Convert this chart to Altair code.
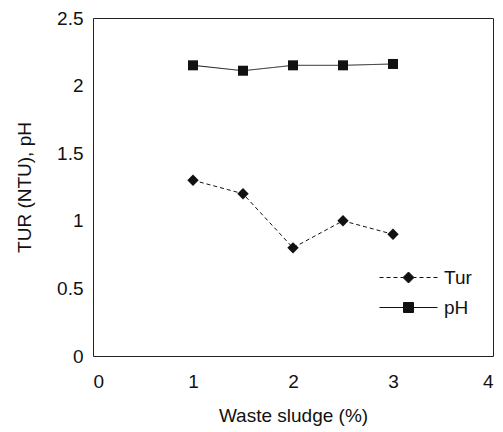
import altair as alt
import pandas as pd

sludge = [1, 1.5, 2, 2.5, 3]
tur = [1.3, 1.2, 0.8, 1.0, 0.9]
ph = [2.15, 2.11, 2.15, 2.15, 2.16]
series_names = ["Tur", "pH"]

rows = []
for xv, t in zip(sludge, tur):
    rows.append({"x": xv, "v": t, "series": "Tur"})
for xv, p in zip(sludge, ph):
    rows.append({"x": xv, "v": p, "series": "pH"})
df = pd.DataFrame(rows)

FONT = "Liberation Sans"

# legend symbols: line + marker paths (unit = sqrt(size)/2 px)
tur_path = ("M-5.8,0L-5.0,0M-4.4,0L-3.6,0M-3.0,0L-2.2,0M-1.6,0L-1.0,0"
            "M1.0,0L1.6,0M2.2,0L3.0,0M3.6,0L4.4,0M5.0,0L5.8,0"
            "M-1.1,0L0,-1.1L1.1,0L0,1.1Z")
ph_path = "M-5.8,0L5.8,0M-1,-1L1,-1L1,1L-1,1Z"

xs = alt.Scale(domain=[0, 4], nice=False)
ys = alt.Scale(domain=[0, 2.5], nice=False)

xenc = alt.X("x:Q", scale=xs,
             axis=alt.Axis(values=[0, 1, 2, 3, 4], title="Waste sludge (%)", ticks=False,
                           labelPadding=16, titlePadding=15, grid=False))
yenc = alt.Y("v:Q", scale=ys,
             axis=alt.Axis(values=[0, 0.5, 1, 1.5, 2, 2.5], format="~g", title="TUR (NTU), pH",
                           ticks=False, labelPadding=10, titlePadding=22, grid=False))

lines = alt.Chart(df).mark_line(color="#111", strokeWidth=1).encode(
    x=xenc, y=yenc,
    strokeDash=alt.StrokeDash("series:N", scale=alt.Scale(domain=series_names, range=[[4, 3], [1, 0]]),
                              legend=None),
    detail="series:N",
)

points = alt.Chart(df).mark_point(filled=True, color="#111", opacity=1).encode(
    x=xenc, y=yenc,
    shape=alt.Shape("series:N", scale=alt.Scale(domain=series_names, range=["diamond", "square"]),
                    legend=None),
    size=alt.Size("series:N", scale=alt.Scale(domain=series_names, range=[130, 100]), legend=None),
)

leg = dict(
    title=None, orient="none", legendX=306, legendY=250,
    symbolSize=100,
    symbolOpacity=1, symbolStrokeColor="#111", symbolFillColor="#111", symbolStrokeWidth=1,
    labelFont=FONT, labelFontSize=19, labelColor="#111",
    labelOffset=26, rowPadding=10, padding=0,
)

legend_layer = alt.Chart(df).mark_point(filled=True, color="#111", opacity=0).encode(
    x=xenc, y=yenc,
    fill=alt.Fill("series:N", scale=alt.Scale(domain=series_names, range=["#111", "#111"]),
                  legend=alt.Legend(**leg)),
    shape=alt.Shape("series:N", scale=alt.Scale(domain=series_names, range=[tur_path, ph_path]),
                    legend=alt.Legend(**leg)),
)

chart = alt.layer(lines, points, legend_layer).resolve_scale(
    shape="independent"
).properties(
    width=400, height=338,
    padding={"left": 85, "top": 10, "right": 2, "bottom": 76},
    autosize=alt.AutoSizeParams(type="none"),
).configure_view(
    stroke="#222", strokeWidth=1
).configure_axis(
    labelFont=FONT, labelFontSize=19, labelColor="#111",
    titleFont=FONT, titleFontSize=19, titleFontWeight="normal", titleColor="#111",
    domain=False,
)

chart.save("out.html", embed_options={"renderer": "svg", "actions": False})
